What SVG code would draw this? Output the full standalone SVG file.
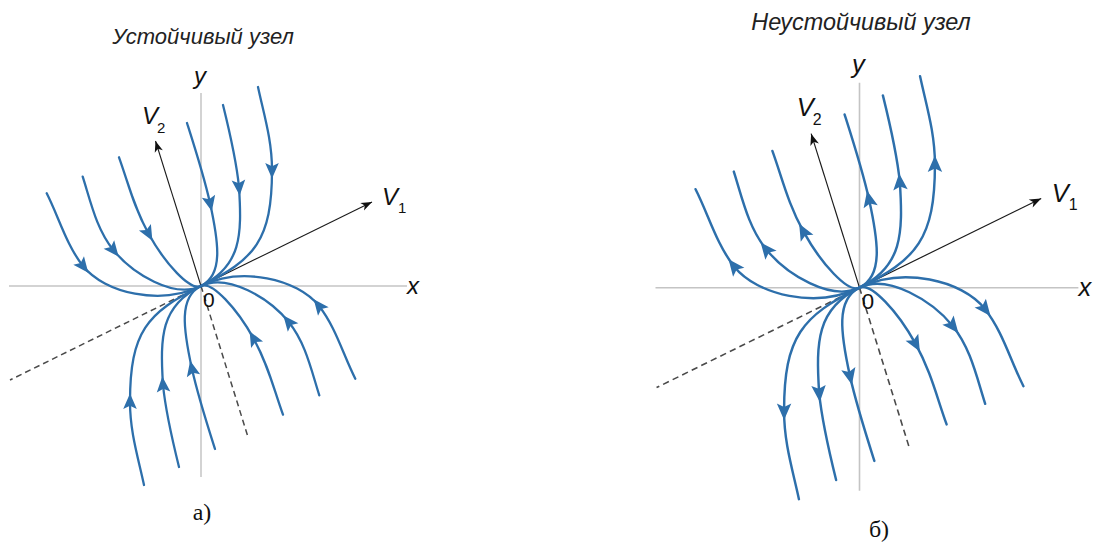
<svg xmlns="http://www.w3.org/2000/svg" xmlns:xlink="http://www.w3.org/1999/xlink" width="1094" height="544" viewBox="0 0 1094 544">
<style>
.axis{stroke:#c4c4c4;stroke-width:1.5;fill:none}
.dash{stroke:#4a4a4a;stroke-width:1.5;stroke-dasharray:6 4;fill:none}
.vec{stroke:#1a1a1a;stroke-width:1.1;fill:none;marker-end:url(#vArr)}
.traj path{stroke:#2d6fab;stroke-width:2.3;fill:none;stroke-linecap:round}
.st{marker-mid:url(#aIn)}
.un{marker-mid:url(#aOut)}
.title{font-family:"Liberation Sans",Arial,sans-serif;font-style:italic;fill:#222}
.lbl{font-family:"Liberation Sans",Arial,sans-serif;font-style:italic;font-size:24px;fill:#111}
.sub{font-family:"Liberation Sans",Arial,sans-serif;font-size:15px;fill:#111}
.zero{font-family:"Liberation Sans",Arial,sans-serif;font-size:21px;fill:#111}
.cap{font-family:"Liberation Serif","Times New Roman",serif;font-size:24px;fill:#111}
</style>
<defs>
<marker id="aIn" viewBox="-10 -9 20 18" refX="0" refY="0" markerWidth="20" markerHeight="18" markerUnits="userSpaceOnUse" orient="auto"><path d="M8.5 0 L-7 -6.8 L-3.8 0 L-7 6.8 Z" fill="#2d6fab"/></marker>
<marker id="aOut" viewBox="-10 -9 20 18" refX="0" refY="0" markerWidth="20" markerHeight="18" markerUnits="userSpaceOnUse" orient="auto"><path d="M-8.5 0 L7 -6.8 L3.8 0 L7 6.8 Z" fill="#2d6fab"/></marker>
<marker id="vArr" viewBox="-12 -6 13 12" refX="0" refY="0" markerWidth="13" markerHeight="12" markerUnits="userSpaceOnUse" orient="auto"><path d="M0 0 L-11 -4.2 L-8 0 L-11 4.2 Z" fill="#111"/></marker>
<g id="half" class="traj">
<path d="M258 87 C264 115 272 140 272 170 C272 240 254.9 259.5 201 286"/>
<path d="M223 105 C229.7 132 236.3 160 239 187 C242 235 241.4 266.2 201 286"/>
<path d="M187 123 C195.6 150 204 176 210 203 C218.8 243 223.4 275 201 286"/>
<path d="M119 157.3 C128.7 184.3 133.5 206.3 148.3 233.3 C164.8 263.3 190.2 291.3 201 286"/>
<path d="M82.7 176.7 C90.7 201.7 96.3 229 113.3 250 C132.2 273.4 174.1 299.2 201 286"/>
<path d="M46.7 193.3 C58.9 217.3 66.3 244.9 83 266 C104.7 293.3 160.6 305.8 201 286"/>
</g>
</defs>

<g id="stable-node">
<text class="title" x="203" y="43.5" text-anchor="middle" font-size="22">Устойчивый узел</text>
<g id="stable-axes">
<line class="axis" x1="9" y1="286" x2="407" y2="286"/>
<line class="axis" x1="201" y1="93" x2="201" y2="477"/>
<line class="dash" x1="201" y1="286" x2="10" y2="380"/>
<line class="dash" x1="201" y1="286" x2="248" y2="437"/>
<line class="vec" x1="201" y1="286" x2="372" y2="202"/>
<line class="vec" x1="201" y1="286" x2="155.5" y2="141"/>
</g>
<g id="stable-trajectories">
<use xlink:href="#half" href="#half" class="st"/>
<use xlink:href="#half" href="#half" class="st" transform="rotate(180 201 286)"/>
</g>
<g id="stable-labels">
<text class="lbl" x="194" y="84">y</text>
<text class="lbl" x="407" y="294">x</text>
<text class="lbl" x="142" y="124">V</text>
<text class="sub" x="157" y="133">2</text>
<text class="lbl" x="382" y="205">V</text>
<text class="sub" x="398" y="213">1</text>
<text class="zero" x="203" y="306.5">0</text>
</g>
<text class="cap" x="202" y="520" text-anchor="middle">а)</text>
</g>

<g id="unstable-node">
<text class="title" x="861" y="30" text-anchor="middle" font-size="23.4">Неустойчивый узел</text>
<g transform="translate(859.5 287.7) scale(1.0625) translate(-201 -286)">
<g id="unstable-axes">
<line class="axis" x1="9" y1="286" x2="407" y2="286"/>
<line class="axis" x1="201" y1="93" x2="201" y2="477"/>
<line class="dash" x1="201" y1="286" x2="10" y2="380"/>
<line class="dash" x1="201" y1="286" x2="248" y2="437"/>
<line class="vec" x1="201" y1="286" x2="372" y2="202"/>
<line class="vec" x1="201" y1="286" x2="155.5" y2="141"/>
</g>
<g id="unstable-trajectories">
<use xlink:href="#half" href="#half" class="un"/>
<use xlink:href="#half" href="#half" class="un" transform="rotate(180 201 286)"/>
</g>
<g id="unstable-labels">
<text class="lbl" x="194" y="84">y</text>
<text class="lbl" x="407" y="294">x</text>
<text class="lbl" x="142" y="124">V</text>
<text class="sub" x="157" y="133">2</text>
<text class="lbl" x="382" y="205">V</text>
<text class="sub" x="398" y="213">1</text>
<text class="zero" x="203" y="306.5">0</text>
</g>
</g>
<text class="cap" x="879" y="537" text-anchor="middle">б)</text>
</g>
</svg>
